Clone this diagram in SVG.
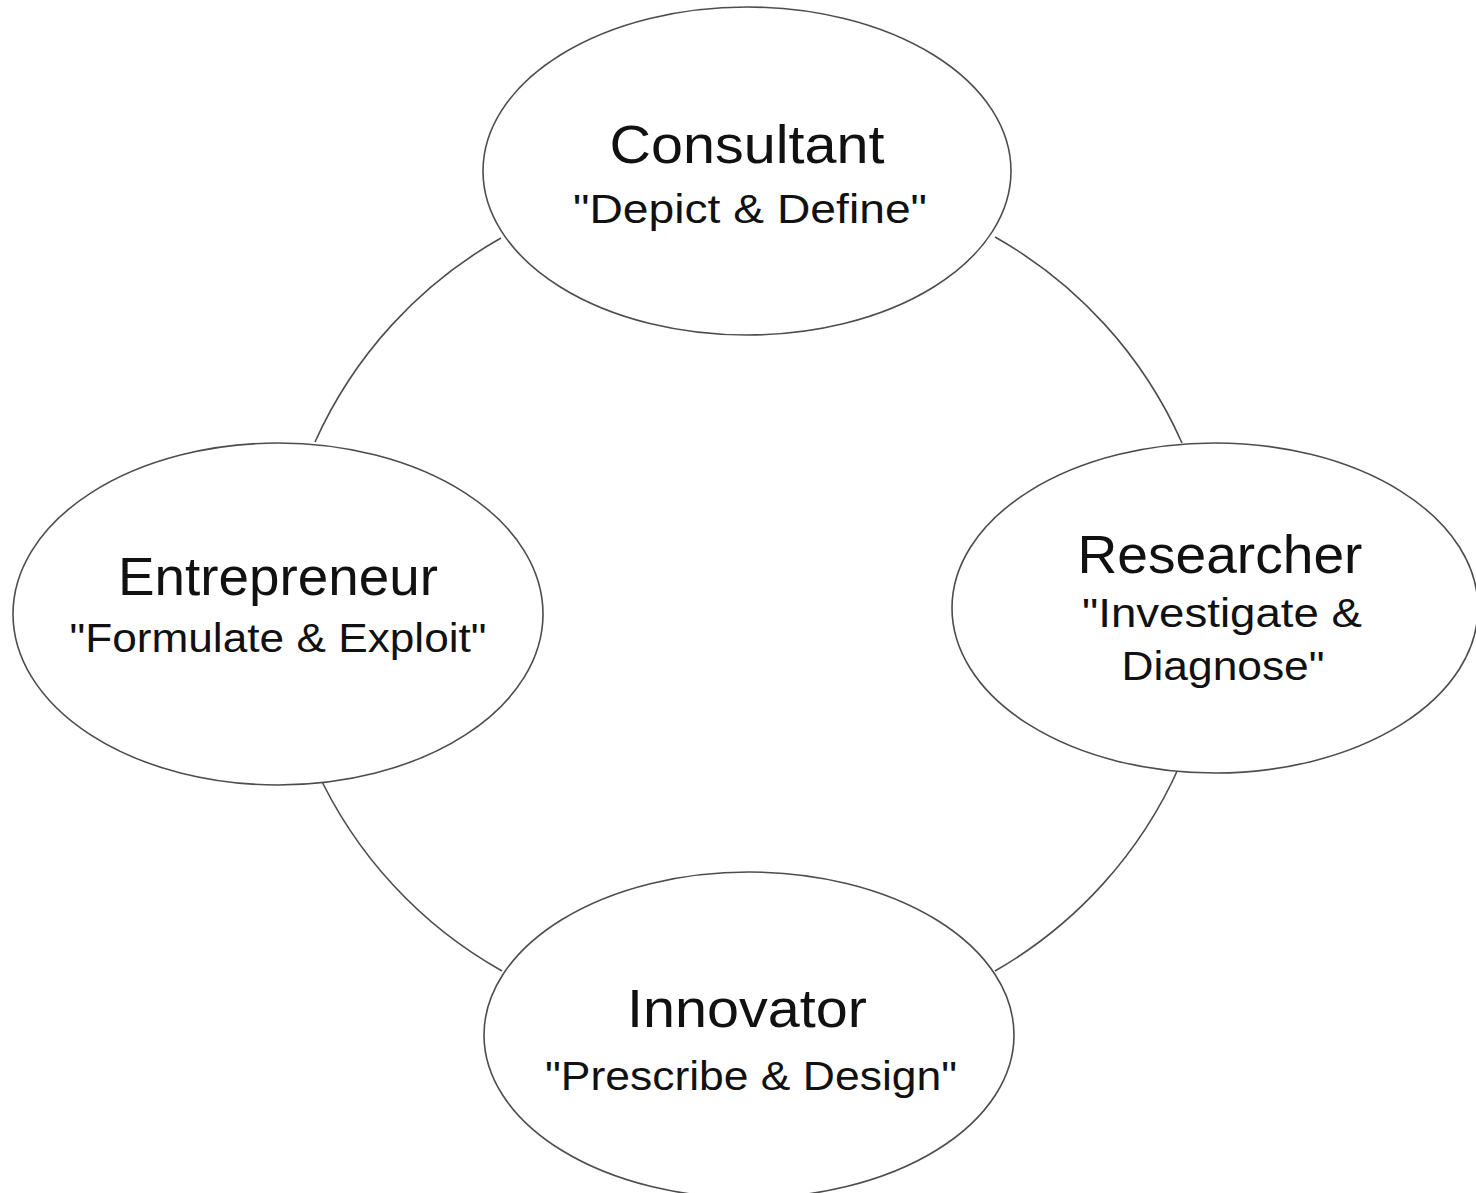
<svg xmlns="http://www.w3.org/2000/svg" width="1476" height="1193" viewBox="0 0 1476 1193">
<style>
.bg{fill:#ffffff}
.node ellipse{fill:#ffffff;stroke:#4d4d4d;stroke-width:1.6}
.conn path{fill:none;stroke:#4d4d4d;stroke-width:1.6}
.t{font-family:"Liberation Sans",Arial,sans-serif;fill:#111111;text-anchor:middle}
.title{font-size:53px}
.sub{font-size:40px}
</style>
<rect class="bg" x="0" y="0" width="1476" height="1193"/>
<g id="connectors" class="conn">
<path d="M 315 442 A 442 442 0 0 1 501 238"/>
<path d="M 995 237 A 442 442 0 0 1 1182 443"/>
<path d="M 1179 767 A 442 442 0 0 1 995 971"/>
<path d="M 502 971 A 442 442 0 0 1 316 769"/>
</g>
<g id="consultant" class="node">
<ellipse cx="747" cy="171" rx="264" ry="164"/>
<text class="t title" x="747" y="163" textLength="275" lengthAdjust="spacingAndGlyphs">Consultant</text>
<text class="t sub" x="750" y="223" textLength="354" lengthAdjust="spacingAndGlyphs">"Depict &amp; Define"</text>
</g>
<g id="researcher" class="node">
<ellipse cx="1215" cy="608" rx="263" ry="165"/>
<text class="t title" x="1220" y="573" textLength="285" lengthAdjust="spacingAndGlyphs">Researcher</text>
<text class="t sub" x="1222" y="627" textLength="280" lengthAdjust="spacingAndGlyphs">"Investigate &amp;</text>
<text class="t sub" x="1223" y="680" textLength="203" lengthAdjust="spacingAndGlyphs">Diagnose"</text>
</g>
<g id="entrepreneur" class="node">
<ellipse cx="278" cy="614" rx="265" ry="171"/>
<text class="t title" x="278" y="595" textLength="320" lengthAdjust="spacingAndGlyphs">Entrepreneur</text>
<text class="t sub" x="278" y="652" textLength="417" lengthAdjust="spacingAndGlyphs">"Formulate &amp; Exploit"</text>
</g>
<g id="innovator" class="node">
<ellipse cx="749" cy="1035" rx="265" ry="163"/>
<text class="t title" x="747" y="1027" textLength="240" lengthAdjust="spacingAndGlyphs">Innovator</text>
<text class="t sub" x="751" y="1090" textLength="412" lengthAdjust="spacingAndGlyphs">"Prescribe &amp; Design"</text>
</g>
</svg>
